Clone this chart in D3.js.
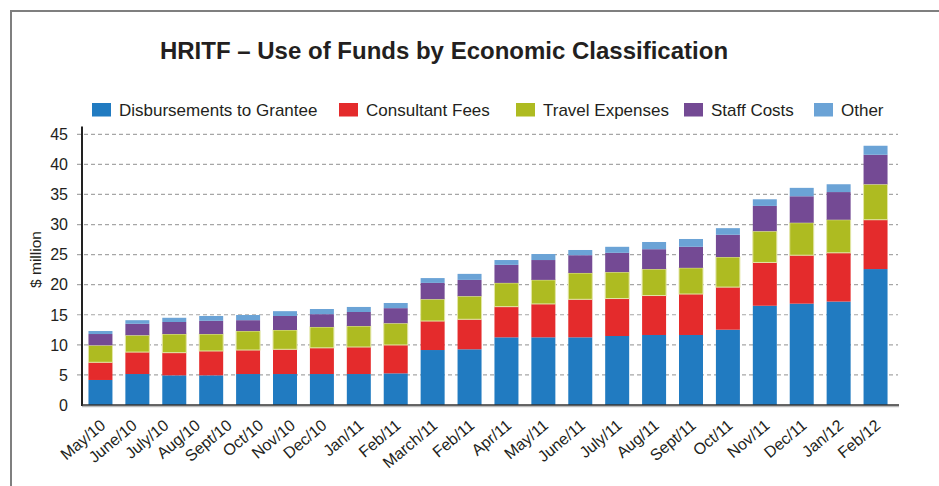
<!DOCTYPE html>
<html>
<head>
<meta charset="utf-8">
<script src="https://cdn.jsdelivr.net/npm/d3@7/dist/d3.min.js"></script>
<style>
  html, body { margin: 0; padding: 0; background: #fff; }
  svg { display: block; font-family: "Liberation Sans", Arial, sans-serif; }
</style>
</head>
<body>
<svg id="chart" width="939" height="486"></svg>
<script>
// ---- data ----
const months = ["May/10","June/10","July/10","Aug/10","Sept/10","Oct/10","Nov/10","Dec/10",
  "Jan/11","Feb/11","March/11","Apr/11","May/11","June/11","July/11","Aug/11","Sept/11",
  "Oct/11","Nov/11","Dec/11","Jan/12","Feb/12"];
const tickLabels = ["May/10","June/10","July/10","Aug/10","Sept/10","Oct/10","Nov/10","Dec/10",
  "Jan/11","Feb/11","March/11","Feb/11","Apr/11","May/11","June/11","July/11","Aug/11","Sept/11",
  "Oct/11","Nov/11","Dec/11","Jan/12","Feb/12"];
const seriesNames = ["Disbursements to Grantee","Consultant Fees","Travel Expenses","Staff Costs","Other"];
const disbursements = [4.16,5.15,4.93,4.93,5.15,5.15,5.15,5.15,5.26,9.14,9.26,11.25,11.25,11.25,11.47,11.64,11.64,12.52,16.5,16.85,17.2,22.6];
const consultantFees = [2.94,3.65,3.77,4.05,3.99,4.11,4.35,4.49,4.72,4.82,4.99,5.1,5.55,6.32,6.23,6.56,6.81,7.08,7.2,8.05,8.1,8.2];
const travelExpenses = [2.82,2.8,3.1,2.82,3.16,3.21,3.47,3.49,3.62,3.64,3.85,3.95,4.0,4.38,4.4,4.4,4.35,5.0,5.2,5.4,5.5,5.9];
const staffCosts = [1.88,1.9,2.0,2.2,1.8,2.33,2.13,2.33,2.5,2.7,2.7,3.0,3.3,2.95,3.2,3.3,3.5,3.7,4.2,4.4,4.6,4.9];
const otherCosts = [0.5,0.6,0.7,0.8,0.86,0.8,0.86,0.84,0.86,0.8,1.0,0.8,1.0,0.87,1.0,1.2,1.3,1.1,1.1,1.4,1.3,1.5];
const yTicks = [0,5,10,15,20,25,30,35,40,45];
const colors = ["#217bc1","#e42b2c","#aebb21","#744a94","#6ba3d6"];

// ---- layout ----
const svg = d3.select("#chart");
const plotLeft = 82, plotRight = 894, axisRight = 899, plotBottom = 405, plotTop = 126.5;
const legendX = [92, 339, 516, 684, 814];
const textColor = "#231f20";

// frame
svg.append("rect").attr("x", 11).attr("y", 11).attr("width", 1000).attr("height", 1000)
  .attr("fill", "none").attr("stroke", "#7f7f7f").attr("stroke-width", 2);

// title
svg.append("text").attr("x", 444).attr("y", 59).attr("text-anchor", "middle")
  .attr("font-size", 24).attr("font-weight", "bold").attr("fill", textColor)
  .text("HRITF \u2013 Use of Funds by Economic Classification");

// legend
seriesNames.forEach((name, i) => {
  const g = svg.append("g").attr("transform", `translate(${legendX[i]},0)`);
  g.append("rect").attr("x", 0).attr("y", 103).attr("width", 19).attr("height", 13.5).attr("fill", colors[i]);
  g.append("text").attr("x", 27).attr("y", 116).attr("font-size", 17).attr("fill", textColor).text(name);
});

// scales
const x = d3.scaleBand().domain(months).range([plotLeft, plotRight]).paddingInner(0.35).paddingOuter(0.175);
const y = d3.scaleLinear().domain([0, 46.3]).range([plotBottom, plotTop]);
const center = m => x(m) + x.bandwidth() / 2;

// grid
svg.append("g").selectAll("line").data(yTicks.filter(d => d > 0)).join("line")
  .attr("x1", 77).attr("x2", 898).attr("y1", d => y(d)).attr("y2", d => y(d))
  .attr("stroke", "#a6a6a6").attr("stroke-width", 1.2).attr("stroke-dasharray", "4,3");

// y tick labels
svg.append("g").selectAll("text").data(yTicks).join("text")
  .attr("x", 68).attr("y", d => y(d)).attr("dy", "0.36em").attr("text-anchor", "end")
  .attr("font-size", 16).attr("fill", textColor).text(d => d);

// y label
svg.append("text").attr("transform", `translate(41,259.5) rotate(-90)`)
  .attr("text-anchor", "middle").attr("font-size", 15.5).attr("fill", textColor).text("$ million");

// stacked bars
const rows = months.map((m, i) => ({
  month: m, s0: disbursements[i], s1: consultantFees[i], s2: travelExpenses[i], s3: staffCosts[i], s4: otherCosts[i]
}));
const stacked = d3.stack().keys(["s0","s1","s2","s3","s4"])(rows);
svg.append("g").selectAll("g").data(stacked).join("g")
  .attr("fill", (d, i) => colors[i])
  .attr("stroke", (d, i) => i === 2 ? "#e3e6a6" : "none")
  .attr("stroke-width", (d, i) => i === 2 ? 1 : 0)
  .selectAll("rect").data(d => d).join("rect")
  .attr("x", d => x(d.data.month)).attr("width", x.bandwidth())
  .attr("y", d => y(d[1])).attr("height", d => y(d[0]) - y(d[1]));

// axes lines
svg.append("line").attr("x1", plotLeft).attr("x2", plotLeft).attr("y1", plotTop).attr("y2", plotBottom + 1)
  .attr("stroke", "#222").attr("stroke-width", 2);
svg.append("line").attr("x1", plotLeft).attr("x2", axisRight).attr("y1", plotBottom + 1.5).attr("y2", plotBottom + 1.5)
  .attr("stroke", "#bbb").attr("stroke-width", 1.5);
svg.append("line").attr("x1", plotLeft).attr("x2", axisRight).attr("y1", plotBottom).attr("y2", plotBottom)
  .attr("stroke", "#333").attr("stroke-width", 1.6);

// x tick labels: the first eight labels are squeezed under the first seven bars,
// the remaining ones sit under bars 7..22 (as in the source chart)
const squeeze = d3.scaleLinear().domain([0, 7]).range([center(months[0]), center(months[6])]);
const labelX = i => i <= 7 ? squeeze(i) : center(months[i - 1]);
svg.append("g").selectAll("text").data(tickLabels).join("text")
  .attr("transform", (d, i) => `translate(${labelX(i) + 6},427) rotate(-40)`)
  .attr("text-anchor", "end").attr("font-size", 16).attr("fill", textColor).text(d => d);
</script>
</body>
</html>
